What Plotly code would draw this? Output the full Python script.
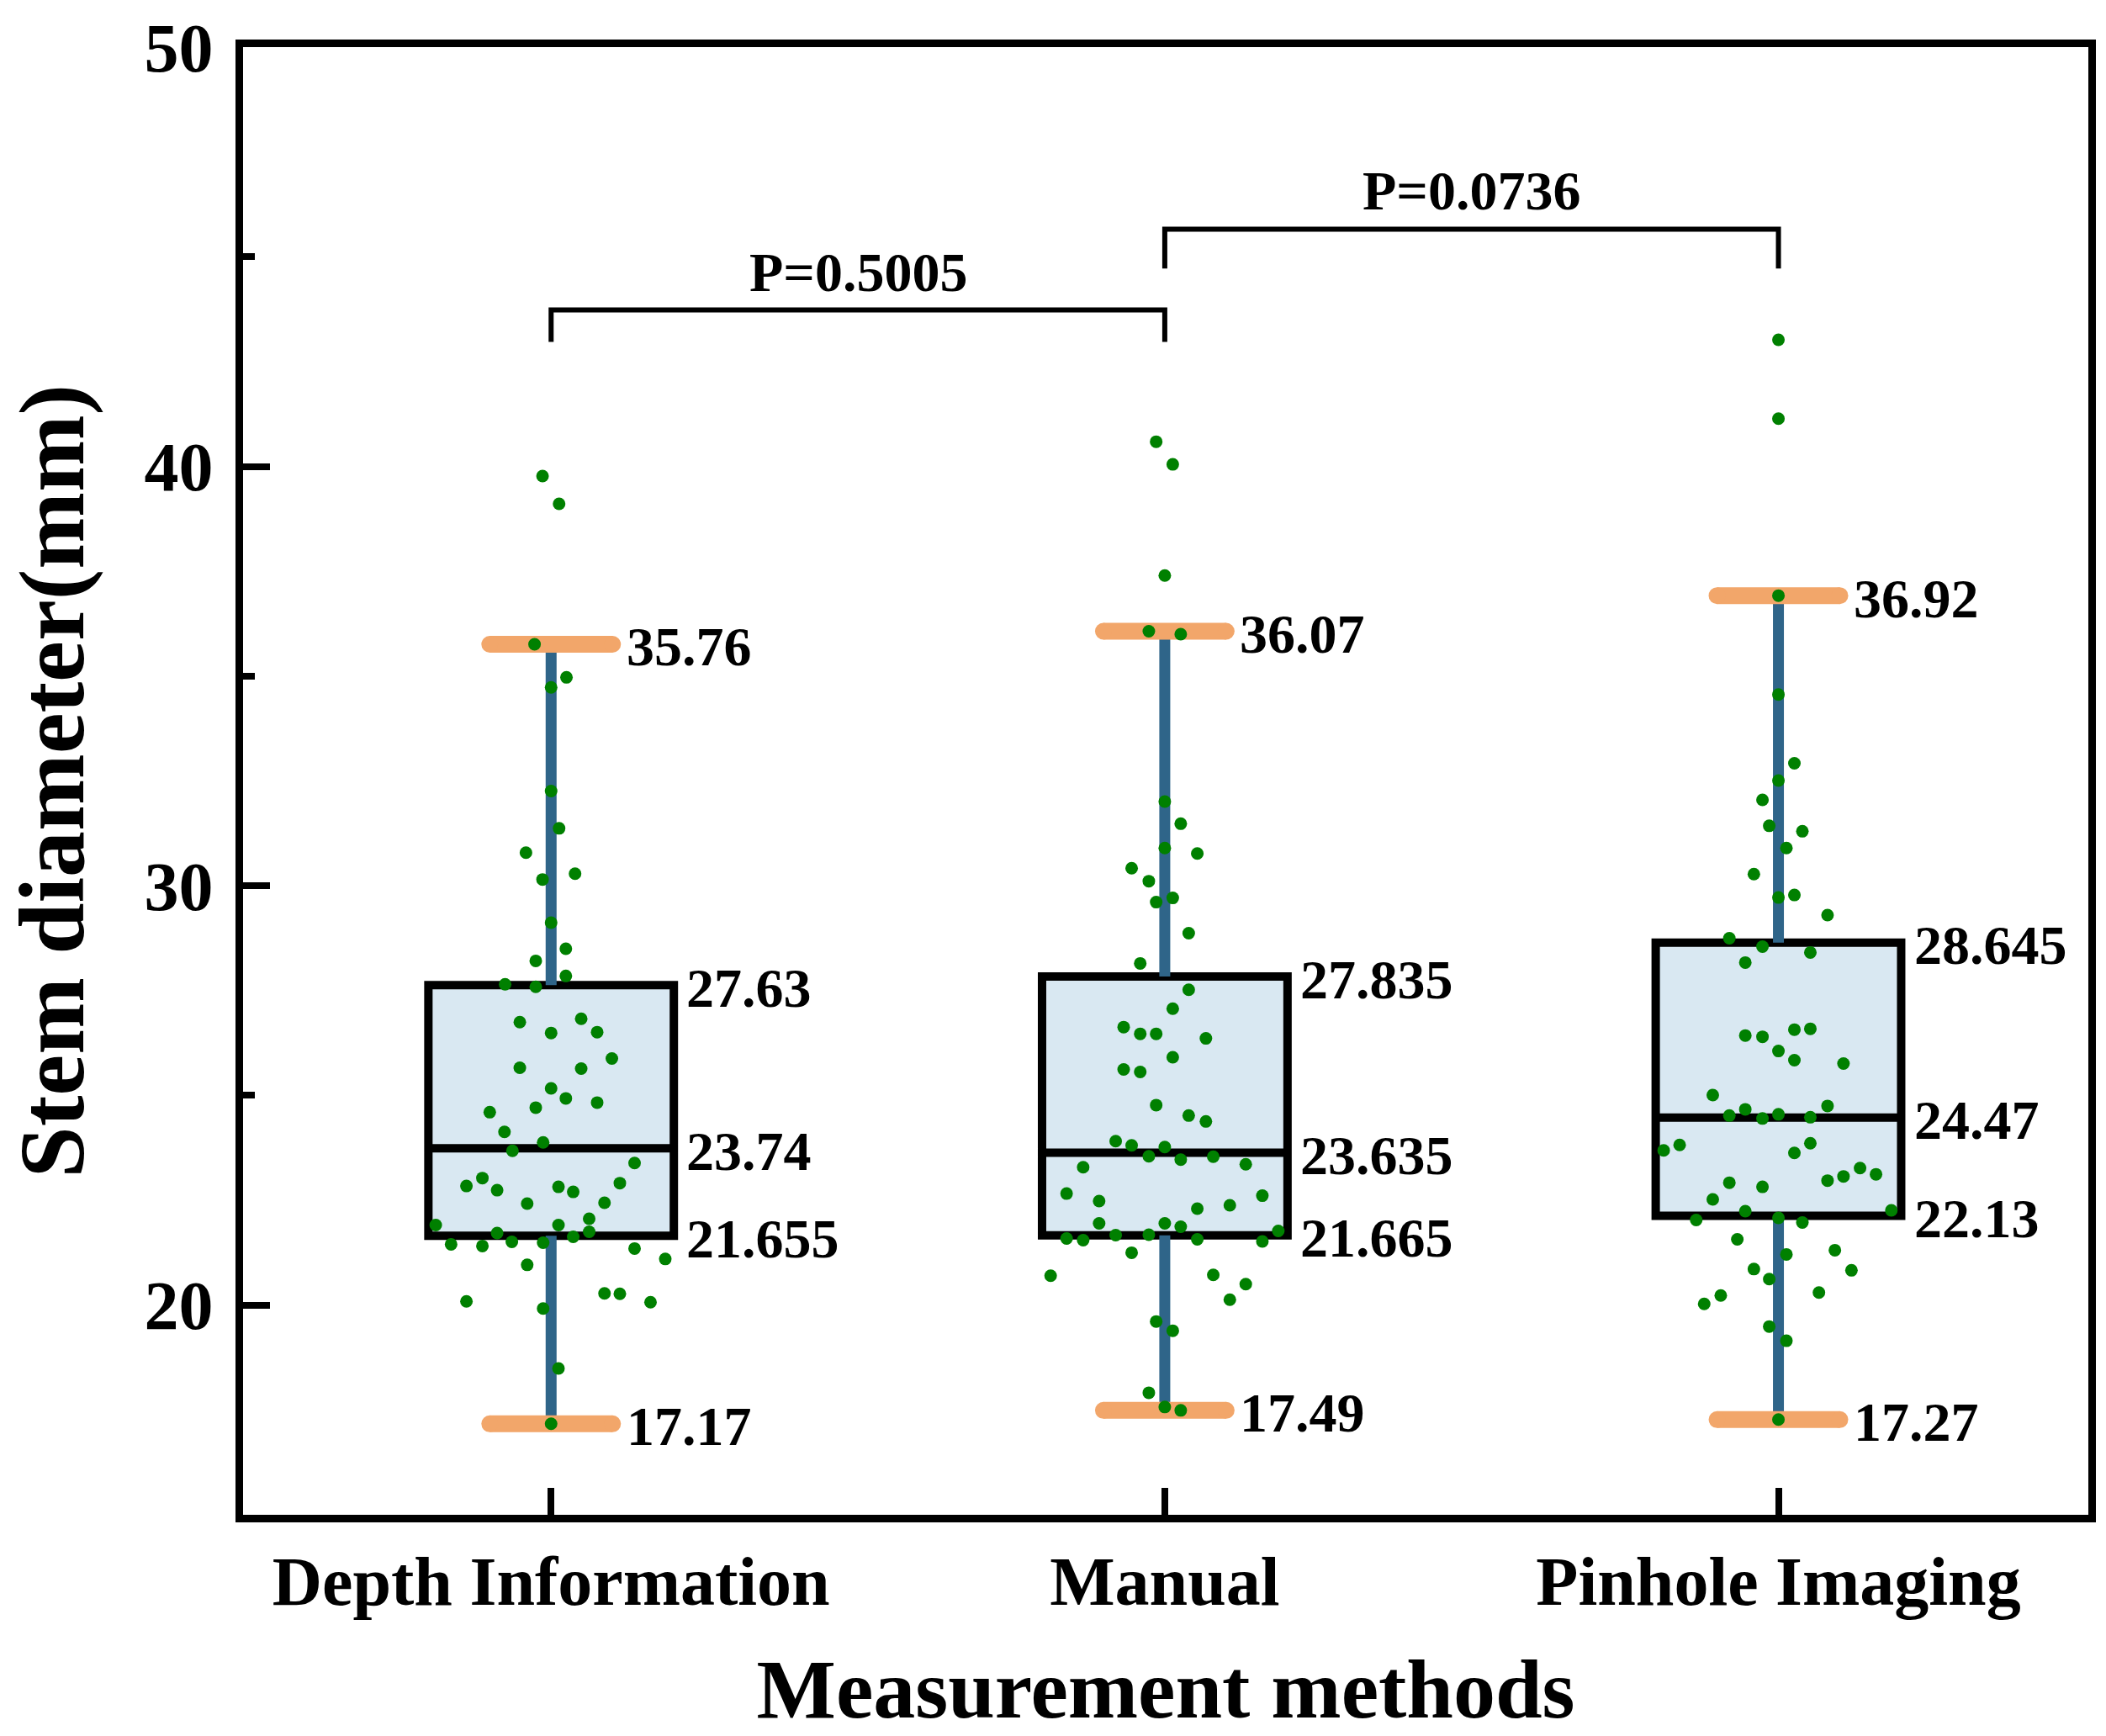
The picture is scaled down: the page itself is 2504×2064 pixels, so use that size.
import plotly.graph_objects as go

# ---------------- data ----------------
groups = ["Depth Information", "Manual", "Pinhole Imaging"]
q1 = [21.655, 21.665, 22.13]
median = [23.74, 23.635, 24.47]
q3 = [27.63, 27.835, 28.645]
lower = [17.17, 17.49, 17.27]
upper = [35.76, 36.07, 36.92]

depth_values = [39.77, 39.11, 35.76, 34.97, 34.73, 32.26, 31.37, 30.79, 30.15, 30.29,
                29.12, 28.50, 28.21, 27.85, 27.65, 27.59, 26.75, 26.83, 26.49, 26.51,
                25.88, 25.66, 25.64, 25.17, 24.93, 24.71, 24.83, 24.60, 24.13, 23.88,
                23.68, 23.39, 23.03, 22.84, 22.74, 22.82, 22.70, 22.91, 22.42, 22.44,
                22.06, 21.91, 21.91, 21.72, 21.75, 21.63, 21.45, 21.41, 21.51, 21.49,
                21.35, 21.10, 20.96, 20.28, 20.27, 20.09, 19.92, 20.07, 18.49, 17.17]
depth_jitter = [-0.014, 0.013, -0.027, 0.025, 0.0, 0.0, 0.013, -0.041, -0.014, 0.039,
                0.0, 0.024, -0.025, 0.024, -0.075, -0.025, -0.051, 0.049, 0.0, 0.075,
                0.099, -0.051, 0.049, 0.0, 0.024, -0.025, 0.075, -0.100, -0.076, -0.013,
                -0.063, 0.136, -0.112, -0.138, -0.088, 0.012, 0.036, 0.112, -0.039, 0.087,
                0.062, -0.188, 0.012, -0.088, 0.062, 0.036, -0.163, -0.112, -0.064, -0.013,
                0.136, 0.186, -0.039, 0.087, 0.112, -0.138, -0.013, 0.162, 0.012, 0.0]

manual_values = [40.59, 40.05, 37.40, 36.07, 36.00, 32.01, 31.48, 30.90, 30.77, 30.42,
                 30.11, 29.61, 29.71, 28.87, 28.15, 27.52, 27.07, 26.63, 26.47, 26.47,
                 26.36, 25.91, 25.62, 25.56, 24.77, 24.52, 24.38, 23.91, 23.81, 23.77,
                 23.55, 23.47, 23.54, 23.36, 23.29, 22.66, 22.48, 22.61, 22.30, 22.38,
                 21.95, 21.95, 21.87, 21.59, 21.55, 21.67, 21.68, 21.57, 21.52, 21.77,
                 21.25, 20.70, 20.72, 20.50, 20.13, 19.61, 19.39, 17.91, 17.57, 17.49]
manual_jitter = [-0.014, 0.013, 0.0, -0.026, 0.026, 0.0, 0.026, 0.0, 0.053, -0.054,
                 -0.026, -0.014, 0.013, 0.039, -0.040, 0.039, 0.013, -0.067, -0.040, -0.014,
                 0.067, 0.013, -0.067, -0.040, -0.014, 0.039, 0.067, -0.080, -0.054, 0.0,
                 -0.026, 0.026, 0.079, 0.132, -0.133, -0.160, -0.107, 0.159, 0.053, 0.106,
                 -0.107, 0.0, 0.026, -0.160, -0.133, -0.080, -0.026, 0.053, 0.159, 0.185,
                 -0.054, -0.186, 0.079, 0.132, 0.106, -0.014, 0.013, -0.026, 0.0, 0.026]

pinhole_values = [43.02, 41.14, 36.92, 34.56, 32.92, 32.51, 32.05, 31.43, 31.30, 30.90,
                  30.28, 29.72, 29.78, 29.30, 28.75, 28.55, 28.41, 28.17, 26.43, 26.40,
                  26.57, 26.59, 26.06, 25.84, 25.76, 25.01, 24.67, 24.75, 24.52, 24.45,
                  24.55, 24.48, 23.69, 23.82, 23.63, 23.86, 22.97, 23.07, 23.27, 23.12,
                  22.92, 22.52, 22.82, 22.24, 22.26, 22.03, 22.08, 21.97, 21.57, 21.21,
                  21.31, 20.86, 20.62, 20.83, 20.30, 20.23, 20.03, 19.49, 19.15, 17.27]
pinhole_jitter = [0.0, 0.0, 0.0, 0.0, 0.026, 0.0, -0.026, -0.015, 0.039, 0.013,
                  -0.040, 0.0, 0.026, 0.080, -0.080, -0.026, 0.052, -0.054, -0.054, -0.026,
                  0.026, 0.052, 0.0, 0.026, 0.106, -0.107, -0.054, 0.080, -0.080, -0.026,
                  0.0, 0.052, -0.187, -0.161, 0.026, 0.052, 0.080, 0.106, 0.133, 0.159,
                  -0.080, -0.107, -0.026, -0.054, 0.184, -0.134, 0.0, 0.039, -0.067, 0.013,
                  0.092, -0.040, -0.015, 0.119, 0.066, -0.094, -0.121, -0.015, 0.013, 0.0]

point_values = [depth_values, manual_values, pinhole_values]
point_jitter = [depth_jitter, manual_jitter, pinhole_jitter]

p_pairs = [(0, 1), (1, 2)]
p_labels = ["P=0.5005", "P=0.0736"]

# ---------------- style / layout constants ----------------
FONT = "Liberation Serif"
BOX_FILL = "#d9e8f2"
WHISKER = "#2f6589"
CAP = "#f2a66a"
DOT = "#008000"
CAP_HALF = 0.1
BRACKET_Y = [43.73, 45.66]
BRACKET_LEG = [42.97, 44.72]
MARGIN = dict(l=289, r=17, t=45, b=251)

pos = list(range(len(groups)))

fig = go.Figure()

# boxes (drawn from the precomputed statistics)
fig.add_trace(go.Box(
    x=pos, q1=q1, median=median, q3=q3, lowerfence=q1, upperfence=q3,
    width=0.4, whiskerwidth=0, fillcolor=BOX_FILL,
    line=dict(color="black", width=10), boxpoints=False,
    hoverinfo="skip", showlegend=False,
))

# whiskers
wx, wy = [], []
for i in pos:
    wx += [i, i, None, i, i, None]
    wy += [q3[i], upper[i], None, lower[i], q1[i], None]
fig.add_trace(go.Scatter(x=wx, y=wy, mode="lines",
                         line=dict(color=WHISKER, width=13),
                         hoverinfo="skip", showlegend=False))

# caps (round ends via end markers)
cx, cy = [], []
for i in pos:
    for v in (upper[i], lower[i]):
        cx += [i - CAP_HALF, i + CAP_HALF, None]
        cy += [v, v, None]
fig.add_trace(go.Scatter(x=cx, y=cy, mode="lines+markers",
                         line=dict(color=CAP, width=20),
                         marker=dict(color=CAP, size=20, line=dict(width=0)),
                         hoverinfo="skip", showlegend=False))

# data points
for i in pos:
    fig.add_trace(go.Scatter(
        x=[i + j for j in point_jitter[i]], y=point_values[i], mode="markers",
        marker=dict(color=DOT, size=15, line=dict(width=0)),
        showlegend=False, name=groups[i]))

# significance brackets
for (a, b), yb, yl in zip(p_pairs, BRACKET_Y, BRACKET_LEG):
    fig.add_trace(go.Scatter(x=[a, a, b, b], y=[yl, yb, yb, yl], mode="lines",
                             line=dict(color="black", width=6),
                             hoverinfo="skip", showlegend=False))

annotations = []
lab_font = dict(family=FONT, size=66, color="black", weight="bold")
for i in pos:
    for v in (upper[i], lower[i]):
        annotations.append(dict(x=i + 0.12, y=v, text=f"{v:g}", showarrow=False,
                                xanchor="left", yanchor="middle", yshift=-3,
                                font=lab_font))
    for v in (q3[i], median[i], q1[i]):
        annotations.append(dict(x=i + 0.218, y=v, text=f"{v:g}", showarrow=False,
                                xanchor="left", yanchor="middle", yshift=-3,
                                font=lab_font))
for (a, b), yb, lab in zip(p_pairs, BRACKET_Y, p_labels):
    annotations.append(dict(x=(a + b) / 2, y=yb, text=lab, showarrow=False,
                            xanchor="center", yanchor="bottom", yshift=7,
                            font=lab_font))

# y-axis title (as an annotation so it can sit close to the page edge)
annotations.append(dict(xref="paper", yref="paper", x=0, y=0.5,
                        xshift=61 - MARGIN["l"], textangle=-90,
                        xanchor="center", yanchor="middle", showarrow=False,
                        text="Stem diameter(mm)",
                        font=dict(family=FONT, size=110, color="black", weight="bold")))

fig.update_layout(
    width=2504, height=2064,
    margin=MARGIN,
    paper_bgcolor="white", plot_bgcolor="white",
    showlegend=False,
    annotations=annotations,
    xaxis=dict(
        range=[-0.502, 2.505], tickvals=pos, ticktext=groups,
        showgrid=False, zeroline=False,
        showline=True, mirror=True, linecolor="black", linewidth=9,
        ticks="inside", ticklen=32, tickwidth=8, tickcolor="black",
        tickfont=dict(family=FONT, size=82, color="black", weight="bold"),
        title=dict(text="Measurement methods", standoff=56,
                   font=dict(family=FONT, size=100, color="black", weight="bold")),
    ),
    yaxis=dict(
        range=[15, 50], tick0=0, dtick=10,
        showgrid=False, zeroline=False,
        showline=True, mirror=True, linecolor="black", linewidth=9,
        ticks="inside", ticklen=32, tickwidth=8, tickcolor="black",
        ticklabelstandoff=10, ticklabeloverflow="allow",
        minor=dict(dtick=5, tick0=0, ticks="inside", ticklen=14, tickwidth=8,
                   tickcolor="black", showgrid=False),
        tickfont=dict(family=FONT, size=82, color="black", weight="bold"),
    ),
)

fig.write_html(
    "out.html",
    config={"displayModeBar": False},
    post_script="document.body.style.margin='0';document.body.style.overflow='hidden';",
)
